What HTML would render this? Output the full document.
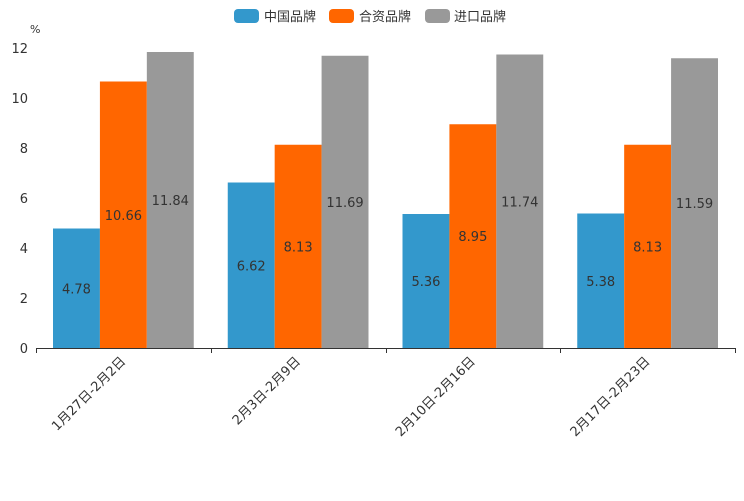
<!DOCTYPE html>
<html><head><meta charset="utf-8"><style>
body{margin:0;background:#fff;width:744px;height:496px;overflow:hidden}
svg{font-family:"DejaVu Sans","Noto Sans CJK SC",sans-serif}
</style></head><body>
<svg id="c" width="744" height="496">
<g>
 <g><rect x="234" y="9" width="25" height="14" rx="4" fill="#3398cc"/><text x="264" y="21" font-size="13" fill="#333">中国品牌</text></g>
 <g><rect x="329" y="9" width="25" height="14" rx="4" fill="#ff6600"/><text x="359" y="21" font-size="13" fill="#333">合资品牌</text></g>
 <g><rect x="425" y="9" width="25" height="14" rx="4" fill="#999999"/><text x="454" y="21" font-size="13" fill="#333">进口品牌</text></g>
</g>
<text x="30" y="33" font-size="11" fill="#333">%</text>
</svg>
<script>
const categories=["1月27日-2月2日","2月3日-2月9日","2月10日-2月16日","2月17日-2月23日"];
const chinaVals=[4.78,6.62,5.36,5.38];
const jvVals=[10.66,8.13,8.95,8.13];
const importVals=[11.84,11.69,11.74,11.59];
const yTicks=[0,2,4,6,8,10,12];
const seriesNames=["china","jv","import"];
const colors=["#3398cc","#ff6600","#999999"];
const svg=document.getElementById('c');
const NS="http://www.w3.org/2000/svg";
const x0=36,x1=735,y0=348,yTop=48,ymax=12;
const y=v=>y0-(v/ymax)*(y0-yTop);
const bw=(x1-x0)/categories.length;
function mk(t,a){const e=document.createElementNS(NS,t);for(const k in a)e.setAttribute(k,a[k]);svg.appendChild(e);return e;}
yTicks.forEach(t=>{
 const e=mk('text',{x:28,y:y(t)+5,'text-anchor':'end','font-size':13,fill:'#333'});e.textContent=t;
 
 
});
const ax=mk('line',{x1:x0,x2:x1,y1:y0+0.5,y2:y0+0.5,stroke:'#333'});


for(let i=0;i<=categories.length;i++){
 const tx=Math.round(x0+i*bw)+0.5;
 const l=mk('line',{x1:tx,x2:tx,y1:y0,y2:y0+5,stroke:'#333'});
 
 
}
const series=[chinaVals,jvVals,importVals];
categories.forEach((c,i)=>{
 const gx=x0+i*bw+17, w=(bw-34)/3;
 series.forEach((s,j)=>{
  const v=s[i];
  const r=mk('rect',{x:gx+j*w,y:y(v),width:w,height:y0-y(v),fill:colors[j]});
  
  
  const t=mk('text',{x:gx+j*w+w/2,y:(y(v)+y0)/2+5,'text-anchor':'middle','font-size':13,fill:'#333'});
  t.textContent=v.toFixed(2);
  
  
 });
 const cx=x0+i*bw+bw/2;
 const lt=mk('text',{x:cx+3,y:y0+14,'text-anchor':'end','font-size':13,fill:'#333',transform:`rotate(-45 ${cx+3} ${y0+14})`});
 lt.textContent=c;
 
 
});
</script>
</body></html>
